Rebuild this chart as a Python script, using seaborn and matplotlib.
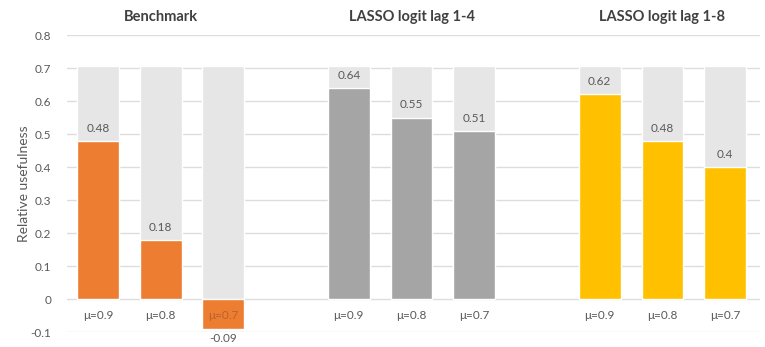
import matplotlib
matplotlib.use("Agg")
import matplotlib.pyplot as plt
import numpy as np
import pandas as pd
import seaborn as sns

# Data
groups = ["Benchmark", "LASSO logit lag 1-4", "LASSO logit lag 1-8"]
mu_labels = ["μ=0.9", "μ=0.8", "μ=0.7"]
benchmark = [0.48, 0.18, -0.09]
lasso_lag4 = [0.64, 0.55, 0.51]
lasso_lag8 = [0.62, 0.48, 0.40]
ceiling = 0.705  # height of the light background columns

colors = {"Benchmark": "#ED7D31",
          "LASSO logit lag 1-4": "#A5A5A5",
          "LASSO logit lag 1-8": "#FFC000"}
text_color = "#595959"

rows = []
for g, vals in enumerate([benchmark, lasso_lag4, lasso_lag8]):
    for i, v in enumerate(vals):
        rows.append({"group": groups[g], "mu": mu_labels[i],
                     "pos": g * 4 + i, "value": v})
df = pd.DataFrame(rows)

sns.set_theme(style="white")
plt.rcParams["font.family"] = ["Lato", "DejaVu Sans"]

fig = plt.figure(figsize=(7.65, 3.47), dpi=100)
ax = fig.add_axes([0.087, 0.0432, 0.906, 0.8558])

# background columns
sns.barplot(data=df.assign(bg=ceiling), x="pos", y="bg", native_scale=True,
            color="#E7E6E6", width=0.667, saturation=1, ax=ax, zorder=2,
            errorbar=None)
# value columns
sns.barplot(data=df, x="pos", y="value", hue="group", palette=colors,
            native_scale=True, dodge=False, width=0.667, saturation=1,
            legend=False, ax=ax, zorder=3, errorbar=None)

ax.set_xlim(-0.5, 10.55)
ax.set_ylim(-0.1, 0.8)
yt = np.round(np.arange(-0.1, 0.81, 0.1), 1)
ax.set_yticks(yt)
ax.set_yticklabels(["0" if t == 0 else f"{t:g}" for t in yt])
ax.tick_params(axis="y", length=0, pad=11, labelsize=8.5, labelcolor=text_color)
ax.set_xticks([])
ax.set_xlabel("")
ax.set_ylabel("Relative usefulness", fontsize=10, color=text_color, labelpad=0)
ax.yaxis.grid(True, color="#DDDDDD", linewidth=1, zorder=0)
ax.set_axisbelow(True)
for s in ax.spines.values():
    s.set_visible(False)

# category labels and value labels
for _, r in df.iterrows():
    over_bar = r["value"] < -0.03
    ax.text(r["pos"], -0.05, r["mu"], ha="center", va="center", fontsize=8.5,
            color="#B8642E" if over_bar else text_color, zorder=4)
    y = r["value"] + 0.038 if r["value"] >= 0 else r["value"] - 0.03
    ax.text(r["pos"], y, f"{r['value']:g}", ha="center", va="center",
            fontsize=8.5, color=text_color, zorder=4, clip_on=False)

# group titles
for g, name in enumerate(groups):
    ax.text(g * 4 + 1, 0.855, name, ha="center", va="center", fontsize=10.5,
            fontweight="bold", color="#404040", clip_on=False)

fig.savefig("out.png", dpi=100)
